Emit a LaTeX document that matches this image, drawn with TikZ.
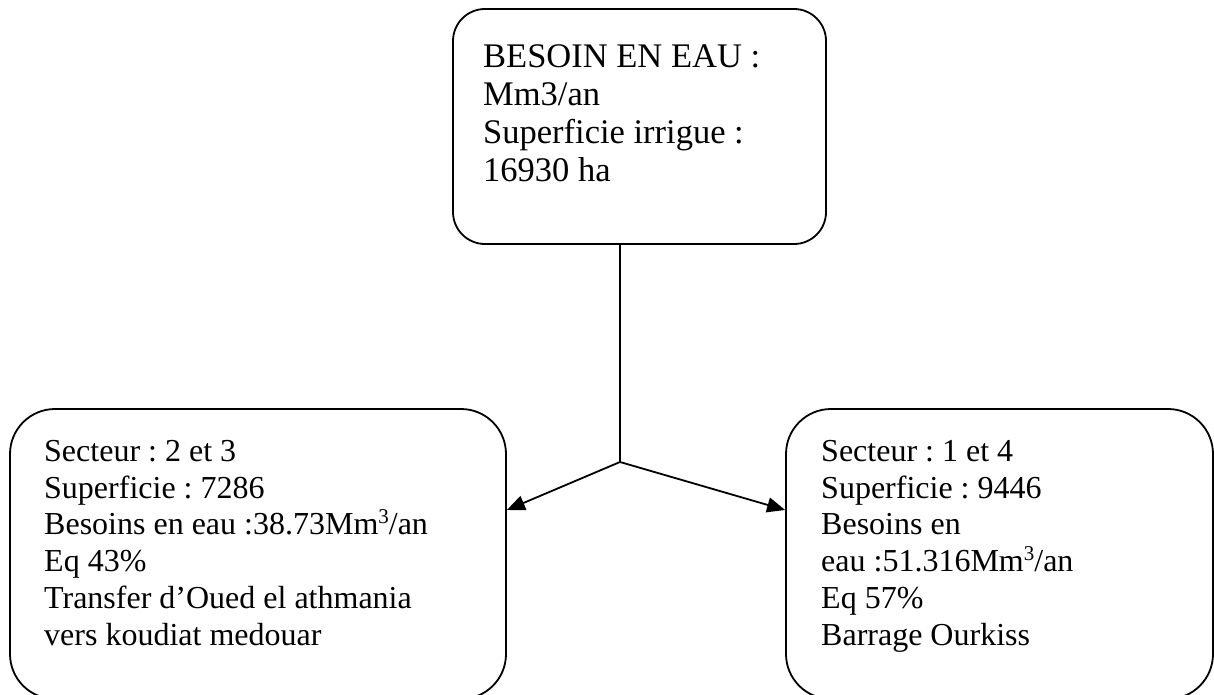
\documentclass[tikz,border=0pt]{standalone}
\usepackage{fontspec}
\setmainfont{Liberation Serif}
\usetikzlibrary{arrows.meta}
\frenchspacing
\newcommand{\supthree}{\raisebox{0.36em}{\fontsize{21}{21}\selectfont 3}}
\tikzset{
  box/.style={draw, line width=1.8pt, rectangle, inner sep=0pt},
  toptext/.style={anchor=base west, align=left, inner sep=0pt, font=\frenchspacing\fontsize{34.5}{38}\selectfont},
  bottext/.style={anchor=base west, align=left, inner sep=0pt, font=\frenchspacing\fontsize{32}{36.7}\selectfont},
  link/.style={line width=1.8pt},
  arr/.style={line width=1.8pt, -{Triangle[length=18pt,width=15pt]}}
}
\begin{document}
\begin{tikzpicture}[x=1pt,y=-1pt]
\useasboundingbox (0,0) rectangle (1214,695);
\begin{scope}
\clip (0,0) rectangle (1214,695);
% boxes
\node[box, rounded corners=32pt, minimum width=373pt, minimum height=235pt] (top) at (639.5,126.5) {};
\node[box, rounded corners=45pt, minimum width=496pt, minimum height=290pt] (left) at (258,554) {};
\node[box, rounded corners=45pt, minimum width=427pt, minimum height=290pt] (right) at (999.5,554) {};
\end{scope}
% texts (anchored at the baseline of the last line)
\node[toptext] (toptxt) at (483,182) {BESOIN EN EAU :\\Mm3/an\\Superficie irrigue :\\16930 ha};
\node[bottext] (lefttxt) at (44,645) {Secteur : 2 et 3\\Superficie : 7286\\Besoins en eau :38.73Mm\supthree/an\\Eq 43\%\\Transfer d’Oued el athmania\\vers koudiat medouar};
\node[bottext] (righttxt) at (821,645) {Secteur : 1 et 4\\Superficie : 9446\\Besoins en\\eau :51.316Mm\supthree/an\\Eq 57\%\\Barrage Ourkiss};
% connectors
\coordinate (j) at (620,462);
\coordinate (la) at (506,510);
\coordinate (ra) at (786,510);
\draw[link] (top.south -| j) -- (j);
\draw[arr] (j) -- (left.east |- la);
\draw[arr] (j) -- (right.west |- ra);
\end{tikzpicture}
\end{document}
